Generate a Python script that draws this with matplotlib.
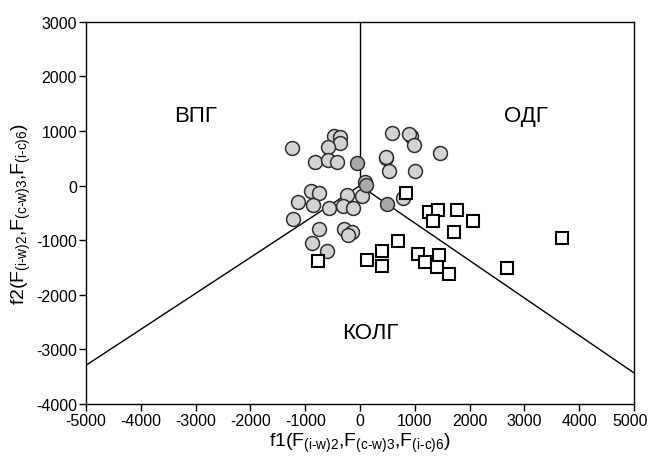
import matplotlib
matplotlib.use("Agg")
import matplotlib.pyplot as plt
import matplotlib.transforms as mtransforms

plt.rcParams['font.family'] = ['Liberation Sans', 'DejaVu Sans']
plt.rcParams['mathtext.fontset'] = 'custom'
plt.rcParams['mathtext.rm'] = 'Liberation Sans'
plt.rcParams['mathtext.it'] = 'Liberation Sans'
plt.rcParams['axes.unicode_minus'] = False

# Circles (light gray)
circ_x = [-1246, -469, -365, -365, -578, -821, -578, -414, 91, -900, -743, -1126, -863,
          -560, -243, -304, -122, 42, -1217, -743, -292, -151, -224, -881, -608,
          578, 925, 900, 985, 1460, 469, 480, 535, 1004, 790]
circ_y = [683, 914, 884, 780, 701, 438, 474, 438, 60, -93, -136, -306, -355,
          -405, -172, -379, -416, -196, -612, -795, -795, -844, -899, -1051, -1198,
          963, 903, 950, 744, 592, 505, 530, 273, 273, -233]
# Circles (darker gray)
dark_x = [-60, 109, 487]
dark_y = [414, 17, -337]
# Squares
sq_x = [834, 1265, 1429, 1326, 1776, 2068, 1721, 3692, 699, 407, 407, 1064, 1186,
        1447, 1411, 1624, 2677, 122, -772]
sq_y = [-136, -489, -441, -654, -441, -643, -855, -965, -1020, -1198, -1478, -1247, -1393,
        -1266, -1496, -1625, -1504, -1357, -1375]

# Field boundaries
vert_x = [0, 0]
vert_y = [3000, 0]
left_x = [0, -5000]
left_y = [0, -3290]
right_x = [0, 5000]
right_y = [0, -3430]

labels = ['ВПГ', 'ОДГ', 'КОЛГ']
label_x = [-2993, 3030, 182]
label_y = [1275, 1275, -2687]

xticks = [-5000, -4000, -3000, -2000, -1000, 0, 1000, 2000, 3000, 4000, 5000]
yticks = [-4000, -3000, -2000, -1000, 0, 1000, 2000, 3000]

fig = plt.figure(figsize=(6.5, 4.64), dpi=100)
ax = fig.add_axes([0.1323, 0.127, 0.9754 - 0.1323, 0.951 - 0.127])

for xs, ys in [(vert_x, vert_y), (left_x, left_y), (right_x, right_y)]:
    ax.plot(xs, ys, color='black', lw=1.0, zorder=1)

ax.plot(circ_x, circ_y, 'o', ms=10, mfc='#d3d3d3', mec='#2e2e2e', mew=1.1, zorder=2)
ax.plot(dark_x, dark_y, 'o', ms=10, mfc='#a9a9a9', mec='#2e2e2e', mew=1.1, zorder=2)
ax.plot(sq_x, sq_y, 's', ms=8.5, mfc='white', mec='black', mew=1.5, zorder=3)

for t, x, y in zip(labels, label_x, label_y):
    ax.text(x, y, t, fontsize=16, ha='center', va='center')

ax.set_xlim(-5000, 5000)
ax.set_ylim(-4000, 3000)
ax.set_xticks(xticks)
ax.set_yticks(yticks)
ax.tick_params(direction='out', length=5, width=1, labelsize=11.5, pad=1.5)
for s in ax.spines.values():
    s.set_linewidth(1.0)

# nudge the last x tick label inward so it stays inside the canvas
last = ax.get_xticklabels()[-1]
last.set_transform(last.get_transform() + mtransforms.ScaledTranslation(-3 / 72, 0, fig.dpi_scale_trans))

ax.set_xlabel(r'f1(F$_{\text{(i-w)2}}$,F$_{\text{(c-w)3}}$,F$_{\text{(i-c)6}}$)', fontsize=14, labelpad=2)
ax.set_ylabel(r'f2(F$_{\text{(i-w)2}}$,F$_{\text{(c-w)3}}$,F$_{\text{(i-c)6}}$)', fontsize=14, labelpad=2)

fig.savefig('out.png', dpi=100)
